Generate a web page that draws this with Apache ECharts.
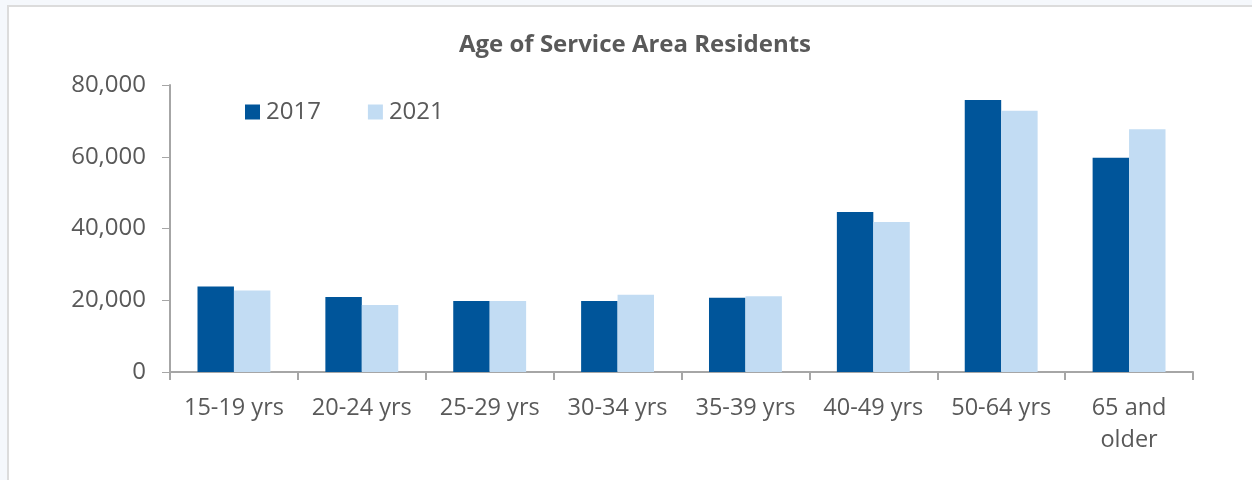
<!DOCTYPE html>
<html lang="en">
<head>
    <meta charset="UTF-8">
    <title>Age of Service Area Residents</title>
    <script src="https://cdn.jsdelivr.net/npm/echarts@6/dist/echarts.min.js"></script>
    <style>
        html, body {margin: 0; padding: 0; background: #f5f8fc;}
        #frame {position: absolute; left: 7px; top: 5px; width: 1250px; height: 480px;
                background: #fff; border-top: 2px solid #dcdcdc; border-left: 2px solid #dcdcdc;}
        #main {position: absolute; left: 0; top: 0; width: 1252px; height: 480px;}
    </style>
</head>
<body>
    <div id="frame"></div>
    <div id="main"></div>
    <script>
    // data
    var categories = ['15-19 yrs', '20-24 yrs', '25-29 yrs', '30-34 yrs', '35-39 yrs', '40-49 yrs', '50-64 yrs', '65 and\nolder'];
    var values2017 = [23800, 20900, 19800, 19800, 20700, 44600, 75800, 59700];
    var values2021 = [22700, 18700, 19800, 21500, 21100, 41800, 72800, 67700];
    var yTicks = [0, 20000, 40000, 60000, 80000];

    var textColor = '#595959';
    var font = '"Open Sans", "Noto Sans", sans-serif';

    var myChart = echarts.init(document.getElementById('main'));
    var option = {
        backgroundColor: 'transparent',
        animation: false,
        title: {
            text: 'Age of Service Area Residents',
            left: 630,
            textAlign: 'center',
            top: 28,
            textStyle: {fontFamily: font, fontSize: 24, fontWeight: 'bold', color: textColor}
        },
        legend: {
            left: 240,
            top: 95,
            itemWidth: 15,
            itemHeight: 15,
            itemGap: 47,
            icon: 'rect',
            textStyle: {fontFamily: font, fontSize: 24, color: textColor, padding: [0, 0, 0, 1]},
            data: ['2017', '2021']
        },
        grid: {left: 170, right: 59, top: 85, bottom: 108, containLabel: false},
        xAxis: {
            type: 'category',
            data: categories,
            axisLine: {lineStyle: {color: '#a6a6a6', width: 2}},
            axisTick: {show: true, length: 8, lineStyle: {color: '#a6a6a6', width: 2}},
            axisLabel: {fontFamily: font, fontSize: 23.5, color: textColor, margin: 20, lineHeight: 32, interval: 0}
        },
        yAxis: {
            type: 'value',
            min: yTicks[0],
            max: yTicks[yTicks.length - 1],
            interval: yTicks[1] - yTicks[0],
            splitLine: {show: false},
            axisLine: {show: true, lineStyle: {color: '#a6a6a6', width: 2}},
            axisTick: {show: true, inside: false, length: 8, lineStyle: {color: '#a6a6a6', width: 1}},
            axisLabel: {
                fontFamily: font, fontSize: 24, color: textColor, margin: 24,
                formatter: function (v) { return v.toLocaleString('en-US'); }
            }
        },
        series: [
            {
                name: '2017',
                type: 'bar',
                data: values2017,
                barGap: '0%',
                barCategoryGap: '43%',
                itemStyle: {color: '#00559a'}
            },
            {
                name: '2021',
                type: 'bar',
                data: values2021,
                barGap: '0%',
                barCategoryGap: '43%',
                itemStyle: {color: '#c2dcf3'}
            }
        ]
    };
    myChart.setOption(option);
    </script>
</body>
</html>
